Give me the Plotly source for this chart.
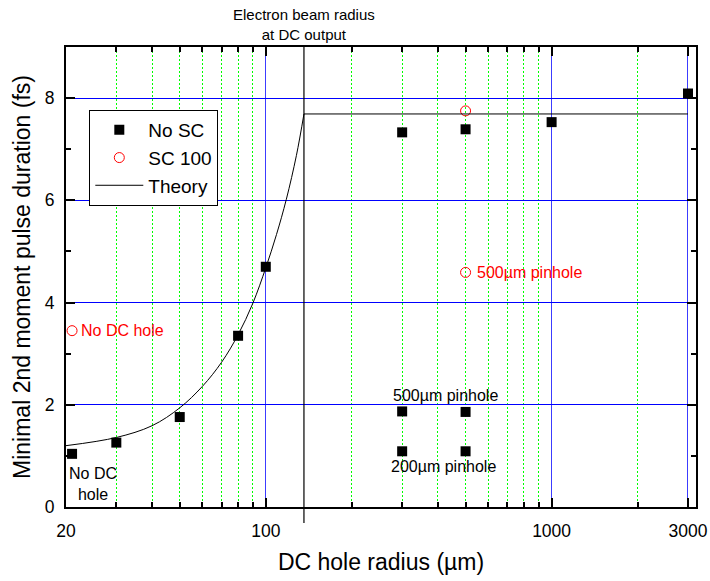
import math
import plotly.graph_objects as go

# ---------------- data ----------------
nosc_x = [21, 30, 50, 80, 100, 300, 500, 1000, 3000, 300, 500, 300, 500]
nosc_y = [1.04, 1.26, 1.76, 3.35, 4.70, 7.33, 7.39, 7.53, 8.09, 1.87, 1.86, 1.09, 1.09]

sc_x = [21, 500, 500]
sc_y = [3.45, 7.75, 4.59]

theory_curve_x = [20, 30, 40, 50, 60, 70, 80, 90, 100, 109, 118, 128, 136]
theory_curve_y = [1.20, 1.36, 1.59, 1.94, 2.36, 2.83, 3.37, 3.98, 4.68, 5.33, 6.02, 6.88, 7.69]
theory_flat_x = [136, 3000]
theory_flat_y = [7.69, 7.69]

beam_radius = 136

x_ticks = [20, 100, 1000, 3000]
x_ticktext = ["20", "100", "1000", "3000"]
x_minor = [30, 40, 50, 60, 70, 80, 90, 200, 300, 400, 500, 600, 700, 800, 900, 2000]
y_ticks = [0, 2, 4, 6, 8]
y_minor = [1, 3, 5, 7]

FONT = "Liberation Sans, Arial, sans-serif"

fig = go.Figure()

fig.add_trace(go.Scatter(
    x=nosc_x, y=nosc_y, mode="markers", name="No SC",
    marker=dict(symbol="square", size=10, color="black"),
))
fig.add_trace(go.Scatter(
    x=sc_x, y=sc_y, mode="markers", name="SC 100",
    marker=dict(symbol="circle-open", size=10, color="red", line=dict(width=1, color="red")),
))
fig.add_trace(go.Scatter(
    x=theory_curve_x, y=theory_curve_y, mode="lines", name="Theory",
    line=dict(color="black", width=1, shape="spline", smoothing=1.0),
    legendgroup="theory",
))
fig.add_trace(go.Scatter(
    x=theory_flat_x, y=theory_flat_y, mode="lines", name="Theory",
    line=dict(color="black", width=1), showlegend=False, legendgroup="theory",
))

# electron beam radius marker line (extends below the axis)
fig.add_shape(type="line", xref="x", yref="paper",
              x0=beam_radius, x1=beam_radius, y0=-0.035, y1=1,
              line=dict(color="black", width=1.2), layer="above")

ann_font = dict(family=FONT, size=16, color="black")
red_font = dict(family=FONT, size=16, color="red")
fig.add_annotation(x=math.log10(beam_radius), y=1.048, xref="x", yref="paper",
                   text="Electron beam radius<br>at DC output", showarrow=False,
                   font=dict(family=FONT, size=15, color="black"),
                   xanchor="center", yanchor="middle")
fig.add_annotation(x=math.log10(21), y=3.45, xref="x", yref="y", text="No DC hole",
                   showarrow=False, font=red_font, xanchor="left", yanchor="middle", xshift=7)
fig.add_annotation(x=math.log10(500), y=4.59, xref="x", yref="y", text="500µm pinhole",
                   showarrow=False, font=red_font, xanchor="left", yanchor="middle", xshift=9)
fig.add_annotation(x=math.log10(426), y=2.18, xref="x", yref="y", text="500µm pinhole",
                   showarrow=False, font=ann_font, xanchor="center", yanchor="middle")
fig.add_annotation(x=math.log10(420), y=0.79, xref="x", yref="y", text="200µm pinhole",
                   showarrow=False, font=ann_font, xanchor="center", yanchor="middle")
fig.add_annotation(x=math.log10(24.8), y=0.455, xref="x", yref="y", text="No DC<br>hole",
                   showarrow=False, font=ann_font, xanchor="center", yanchor="middle")

axis_common = dict(
    showline=True, linecolor="black", linewidth=2, mirror="ticks",
    ticks="inside", ticklen=9, tickwidth=1.5, tickcolor="black",
    gridwidth=1, showgrid=True, zeroline=False,
    tickfont=dict(family=FONT, size=17.5, color="black"),
)

fig.update_xaxes(
    type="log", range=[math.log10(20), math.log10(3200)],
    tickmode="array", tickvals=x_ticks, ticktext=x_ticktext,
    gridcolor="#3c3cff",
    minor=dict(tickmode="array", tickvals=x_minor, ticks="inside", ticklen=5,
               tickwidth=1.5, tickcolor="black", showgrid=True,
               gridcolor="#00ff00", griddash="2px,2px", gridwidth=1),
    title=dict(text="DC hole radius (µm)", font=dict(family=FONT, size=23, color="black"), standoff=14),
    ticklabelstandoff=7,
    **axis_common,
)
fig.update_yaxes(
    range=[0, 9], tickmode="array", tickvals=y_ticks,
    gridcolor="#0000ff",
    minor=dict(tickmode="array", tickvals=y_minor, ticks="inside", ticklen=5,
               tickwidth=1.5, tickcolor="black", showgrid=False),
    title=dict(text="Minimal 2nd moment pulse duration (fs)", font=dict(family=FONT, size=23, color="black"), standoff=8),
    ticklabelstandoff=6,
    **axis_common,
)

fig.update_layout(
    width=710, height=581,
    margin=dict(l=66, r=14, t=47, b=74, autoexpand=False),
    paper_bgcolor="white", plot_bgcolor="white",
    font=dict(family=FONT, color="black"),
    showlegend=True,
    legend=dict(x=0.037, y=0.863, xanchor="left", yanchor="top",
                bordercolor="black", borderwidth=1, bgcolor="white",
                font=dict(family=FONT, size=19, color="black"),
                itemwidth=48, tracegroupgap=0),
)

fig.write_html("out.html", config={"displayModeBar": False},
               post_script="document.body.style.margin='0px';")
